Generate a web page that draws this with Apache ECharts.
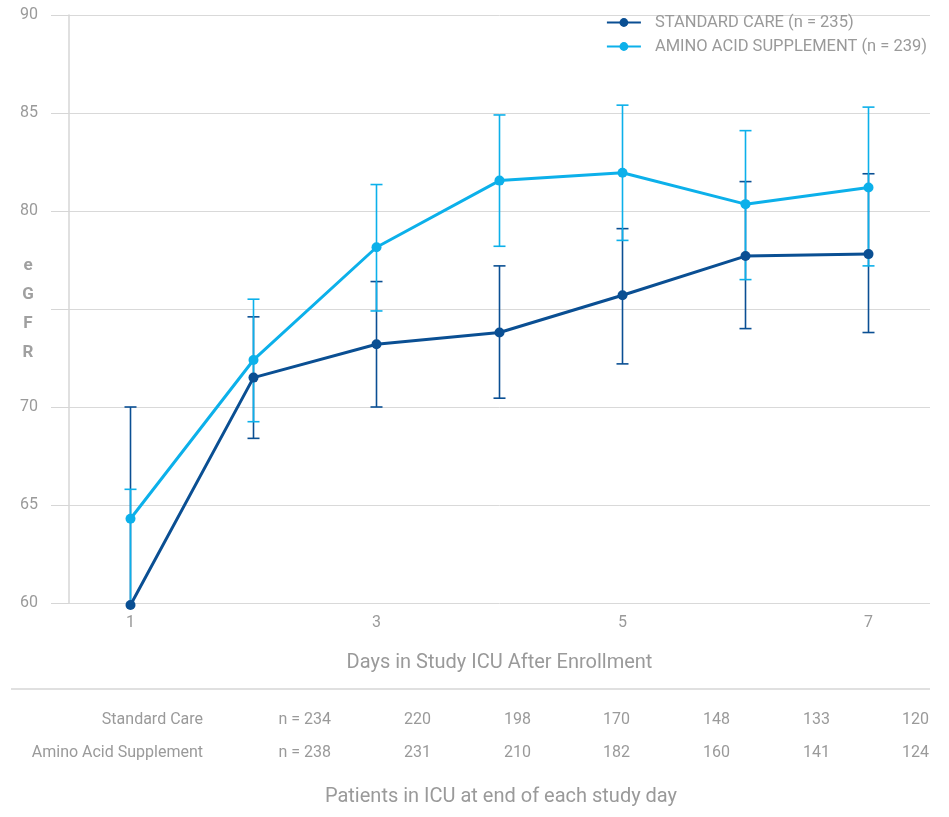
<!DOCTYPE html>
<html>
<head>
<meta charset="utf-8">
<script src="https://cdn.jsdelivr.net/npm/echarts@6/dist/echarts.min.js"></script>
<style>
  html, body { margin: 0; padding: 0; background: #fff; }
  #chart { width: 949px; height: 817px; }
</style>
</head>
<body>
<div id="chart"></div>
<script>
const days = ["1", "2", "3", "4", "5", "6", "7"];

// mean eGFR and error bar ends
const standardMean = [59.9, 71.5, 73.2, 73.8, 75.7, 77.7, 77.8];
const standardLow = [50, 68.4, 70.0, 70.45, 72.2, 74.0, 73.8];
const standardHigh = [70.0, 74.6, 76.4, 77.2, 79.1, 81.5, 81.9];

const aminoMean = [64.3, 72.4, 78.15, 81.55, 81.95, 80.35, 81.2];
const aminoLow = [58, 69.25, 74.9, 78.2, 78.5, 76.5, 77.2];
const aminoHigh = [65.8, 75.5, 81.35, 84.9, 85.4, 84.1, 85.3];

const tableRows = ["Standard Care", "Amino Acid Supplement"];
const standardN = ["n = 234", "220", "198", "170", "148", "133", "120"];
const aminoN = ["n = 238", "231", "210", "182", "160", "141", "124"];

const DARK = "#0a4f93";
const LIGHT = "#0cb0ea";
const GREY = "#9a9a9a";
const FONT = "Roboto";
const STD_NAME = "STANDARD CARE (n = 235)";
const AA_NAME = "AMINO ACID SUPPLEMENT (n = 239)";

const chart = echarts.init(document.getElementById("chart"));

function errorSeries(name, low, high, color) {
  return {
    name: name,
    type: "custom",
    clip: true,
    z: 2,
    itemStyle: { color: color },
    data: days.map((d, i) => [i, low[i], high[i]]),
    renderItem: (params, api) => {
      const x = api.value(0);
      const lo = api.coord([x, api.value(1)]);
      const hi = api.coord([x, api.value(2)]);
      const w = 6;
      const style = { stroke: color, lineWidth: 1.6 };
      return {
        type: "group",
        children: [
          { type: "line", shape: { x1: lo[0], y1: lo[1], x2: hi[0], y2: hi[1] }, style: style },
          { type: "line", shape: { x1: hi[0] - w, y1: hi[1], x2: hi[0] + w, y2: hi[1] }, style: style },
          { type: "line", shape: { x1: lo[0] - w, y1: lo[1], x2: lo[0] + w, y2: lo[1] }, style: style },
        ],
      };
    },
  };
}

function lineSeries(name, values, color, z) {
  return {
    name: name,
    type: "line",
    z: z,
    clip: false,
    data: values,
    symbol: "circle",
    symbolSize: 10,
    lineStyle: { color: color, width: 3 },
    itemStyle: { color: color },
  };
}

const tableText = [];
const colRight = [331, 431, 531, 630, 730, 830, 929];
[standardN, aminoN].forEach((row, r) => {
  const y = 720 + r * 33;
  tableText.push({
    type: "text", x: 203, y: y,
    style: { text: tableRows[r], fill: GREY, font: `16px ${FONT}`, textAlign: "right", textVerticalAlign: "middle" },
  });
  row.forEach((v, i) => {
    tableText.push({
      type: "text", x: colRight[i], y: y,
      style: { text: v, fill: GREY, font: `16px ${FONT}`, textAlign: "right", textVerticalAlign: "middle" },
    });
  });
});

const option = {
  animation: false,
  textStyle: { fontFamily: FONT },
  grid: { left: 69, right: 19, top: 15, bottom: 214 },
  legend: {
    orient: "vertical",
    right: 17,
    top: 9,
    itemWidth: 34,
    itemHeight: 11,
    itemGap: 7,
    textStyle: { color: GREY, fontSize: 16.5, fontFamily: FONT, padding: [0, 0, 0, 9] },
    data: [STD_NAME, AA_NAME],
  },
  xAxis: {
    type: "category",
    data: days,
    boundaryGap: true,
    axisLine: { show: false },
    axisTick: { show: false },
    axisLabel: { interval: 1, color: GREY, fontSize: 16, margin: 12 },
    name: "Days in Study ICU After Enrollment",
    nameLocation: "middle",
    nameGap: 50,
    nameTextStyle: { color: GREY, fontSize: 20 },
  },
  yAxis: {
    type: "value",
    min: 60,
    max: 90,
    interval: 5,
    axisLine: { show: true, lineStyle: { color: "#d6d6d6", width: 1.5 } },
    axisTick: { show: true, length: 18, lineStyle: { color: "#d6d6d6" } },
    splitLine: { lineStyle: { color: "#d9d9d9", width: 1 } },
    axisLabel: {
      color: GREY,
      fontSize: 16,
      margin: 31,
      formatter: (v) => (v === 75 ? "" : String(v)),
    },
  },
  graphic: [
    {
      type: "text", x: 28, y: 309,
      style: {
        text: "e\nG\nF\nR", fill: "#a0a0a0", font: `bold 17px ${FONT}`,
        textAlign: "center", textVerticalAlign: "middle", lineHeight: 29,
      },
    },
    {
      type: "line",
      shape: { x1: 11, y1: 689, x2: 930, y2: 689 },
      style: { stroke: "#d6d6d6", lineWidth: 1.5 },
    },
    ...tableText,
    {
      type: "text", x: 501, y: 797,
      style: { text: "Patients in ICU at end of each study day", fill: GREY, font: `20px ${FONT}`, textAlign: "center", textVerticalAlign: "middle" },
    },
  ],
  series: [
    errorSeries("stdErr", standardLow, standardHigh, DARK),
    errorSeries("aaErr", aminoLow, aminoHigh, LIGHT),
    lineSeries(AA_NAME, aminoMean, LIGHT, 3),
    lineSeries(STD_NAME, standardMean, DARK, 4),
  ],
};

chart.setOption(option);
</script>
</body>
</html>
